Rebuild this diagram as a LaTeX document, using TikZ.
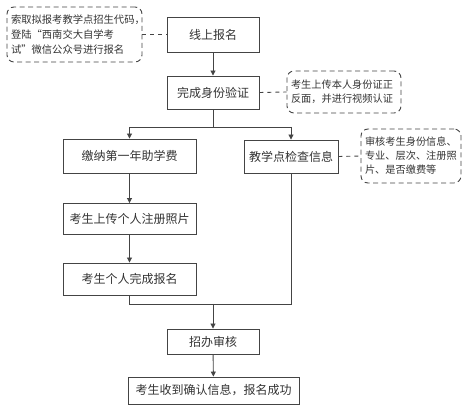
\documentclass[tikz,border=0pt]{standalone}
\usepackage{fontspec}
\setmainfont{Noto Sans CJK SC}
\usetikzlibrary{arrows.meta}
\definecolor{ln}{HTML}{444444}
\definecolor{tx}{HTML}{333333}
\begin{document}
\begin{tikzpicture}[x=1pt,y=-1pt,
  box/.style={draw=ln,line width=0.9pt,text=tx,font=\fontsize{12}{14}\selectfont,inner sep=0pt,minimum width=#1},
  note/.style={draw=ln,line width=0.9pt,dash pattern=on 5pt off 3.5pt,rounded corners=7pt,text=tx,align=left,inner xsep=4pt,inner ysep=0pt},
  con/.style={draw=ln,line width=0.9pt},
  arr/.style={con,-{Triangle[length=5pt,width=5pt]}},
  dcon/.style={draw=ln,line width=0.9pt,dash pattern=on 4pt off 4pt}]
\useasboundingbox (0,0) rectangle (471,411);
% boxes
\node[box=92pt,minimum height=35pt] (b1) at (213,34.5) {线上报名};
\node[box=92pt,minimum height=33pt] (b2) at (213,92.5) {完成身份验证};
\node[box=133pt,minimum height=34pt] (b3) at (129.5,156) {缴纳第一年助学费};
\node[box=94pt,minimum height=33pt] (b4) at (291,156.5) {教学点检查信息};
\node[box=133pt,minimum height=31pt] (b5) at (129.5,219) {考生上传个人注册照片};
\node[box=133pt,minimum height=32pt] (b6) at (129.5,279) {考生个人完成报名};
\node[box=92pt,minimum height=25pt] (b7) at (213,341.5) {招办审核};
\node[box=171pt,minimum height=27pt] (b8) at (213.5,390.5) {考生收到确认信息，报名成功};
% notes
\node[note,text width=127pt,minimum height=55pt,font=\fontsize{10.3}{15}\selectfont] (n1) at (74.5,34.5)
  {索取拟报考教学点招生代码，\\登陆“西南交大自学考\\试”微信公众号进行报名};
\node[note,text width=106pt,minimum height=42pt,font=\fontsize{10.2}{13.5}\selectfont] (n2) at (344,92)
  {考生上传本人身份证正\\反面，并进行视频认证};
\node[note,text width=92pt,minimum height=54pt,font=\fontsize{10.2}{14}\selectfont] (n3) at (411,156)
  {审核考生身份信息、\\专业、层次、注册照\\片、是否缴费等};
% coordinates
\coordinate (split) at (213,127);
\coordinate (sl) at (129.5,127);
\coordinate (sr) at (291,127);
\coordinate (merge) at (213,304);
\coordinate (ml) at (129.5,304);
\coordinate (mr) at (291,304);
% connectors
\draw[arr] (b1) -- (b2);
\draw[con] (b2.south) -- (split);
\draw[arr] (sl) -| (b3.north);
\draw[con] (sl) -- (sr);
\draw[arr] (sr) -- (b4.north);
\draw[arr] (b3) -- (b5);
\draw[arr] (b5) -- (b6);
\draw[con] (b6.south) -- (ml) -- (mr) -- (b4.south);
\draw[arr] (merge) -- (b7.north);
\draw[arr] (b7) -- (b8);
\draw[dcon] (n1.east) -- (b1.west);
\draw[dcon] (b2.east) -- (n2.west);
\draw[dcon] (b4.east) -- (n3.west);
\end{tikzpicture}
\end{document}
